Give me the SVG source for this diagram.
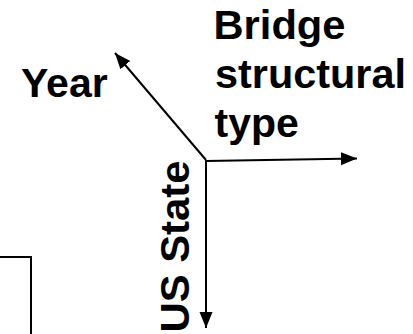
<svg xmlns="http://www.w3.org/2000/svg" width="413" height="334" viewBox="0 0 413 334">
<style>
.lbl{font-family:"Liberation Sans",Arial,sans-serif;font-weight:bold;font-size:41px;fill:#000}
.ax{stroke:#000;stroke-width:2;fill:none}
</style>
<defs>
<marker id="ah" markerUnits="userSpaceOnUse" markerWidth="17" markerHeight="14" refX="16" refY="7" orient="auto">
<path d="M0,0.5 L16,7 L0,13.5 Z" fill="#000"/>
</marker>
</defs>
<rect width="413" height="334" fill="#fff"/>
<g id="box"><path class="ax" d="M0,257 H31 V334"/></g>
<g id="connectors">
<line class="ax" x1="206" y1="161" x2="357" y2="158.5" marker-end="url(#ah)"/>
<line class="ax" x1="206" y1="160" x2="115" y2="53" marker-end="url(#ah)"/>
<line class="ax" x1="206" y1="160" x2="206" y2="328" marker-end="url(#ah)"/>
</g>
<g id="year"><text class="lbl" x="21" y="96.5">Year</text></g>
<g id="bridge"><text class="lbl" x="213.5" y="38.5" textLength="132" lengthAdjust="spacingAndGlyphs">Bridge</text><text class="lbl" x="215" y="88" textLength="191" lengthAdjust="spacingAndGlyphs">structural</text><text class="lbl" x="214.5" y="137">type</text></g>
<g id="state"><text class="lbl" transform="translate(189,332.5) rotate(-90)" textLength="172" lengthAdjust="spacingAndGlyphs">US State</text></g>
</svg>
